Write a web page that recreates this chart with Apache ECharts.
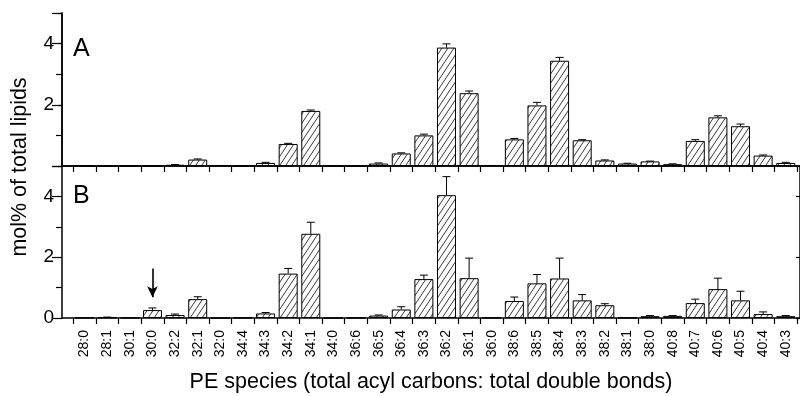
<!DOCTYPE html>
<html>
<head>
<meta charset="utf-8">
<script src="https://cdn.jsdelivr.net/npm/echarts@6/dist/echarts.min.js"></script>
<style>
html,body{margin:0;padding:0;background:#fff;}
#chart{width:800px;height:396px;}
</style>
</head>
<body>
<div id="chart"></div>
<script>
const categories = ['28:0','28:1','30:1','30:0','32:2','32:1','32:0','34:4','34:3','34:2','34:1','34:0','36:6','36:5','36:4','36:3','36:2','36:1','36:0','38:6','38:5','38:4','38:3','38:2','38:1','38:0','40:8','40:7','40:6','40:5','40:4','40:3'];
const valuesA = [0,0,0,0,0.04,0.21,0.03,0,0.10,0.72,1.80,0,0,0.08,0.41,1.00,3.87,2.38,0.03,0.87,1.98,3.44,0.84,0.18,0.08,0.15,0.06,0.82,1.59,1.30,0.34,0.10];
const errorsA = [0,0,0,0,0.01,0.02,0,0,0.02,0.02,0.03,0,0,0.02,0.02,0.04,0.12,0.07,0,0.03,0.10,0.11,0.02,0.02,0.01,0.01,0.01,0.04,0.05,0.07,0.02,0.02];
const valuesB = [0.01,0.02,0.01,0.26,0.10,0.62,0,0.01,0.15,1.46,2.77,0,0.01,0.08,0.28,1.28,4.04,1.31,0.01,0.56,1.14,1.30,0.58,0.42,0.01,0.06,0.07,0.49,0.95,0.58,0.13,0.06];
const errorsB = [0,0.01,0,0.07,0.03,0.08,0,0,0.03,0.17,0.38,0,0,0.02,0.09,0.13,0.61,0.66,0,0.13,0.29,0.67,0.19,0.05,0,0.02,0.01,0.13,0.36,0.30,0.07,0.02];
const yTicks = [0,2,4];
const xTitle = 'PE species (total acyl carbons: total double bonds)';
const yTitle = 'mol% of total lipids';
const arrowCategory = '30:0';
const arrowFrom = 1.63, arrowTo = 0.68;

const FONT = '"Liberation Sans", Arial, sans-serif';

// hatch pattern
const pc = document.createElement('canvas');
pc.width = 6; pc.height = 9;
const g = pc.getContext('2d');
g.fillStyle = '#fff'; g.fillRect(0,0,6,9);
g.strokeStyle = '#222'; g.lineWidth = 0.9;
for (const off of [-6,0,6]) {
  g.beginPath(); g.moveTo(off-1, 10.5); g.lineTo(off+7, -1.5); g.stroke();
}
const hatch = {image: pc, repeat: 'repeat'};

const xs = categories.map((c,i)=>i+1);
const tickPos = categories.map((c,i)=>i+0.5).concat([categories.length+0.5]);
const XMAX = 32.63;

function barData(vals){ return vals.map((v,i)=>[xs[i], v]); }
function errData(vals, errs){ return vals.map((v,i)=>[xs[i], v, errs[i]]); }

function errRender(params, api){
  const x = api.value(0), v = api.value(1), e = api.value(2);
  if (!(e > 0)) return;
  const p1 = api.coord([x, v]);
  const p2 = api.coord([x, v + e]);
  const st = {stroke:'#000', lineWidth:1};
  return {type:'group', children:[
    {type:'line', shape:{x1:p1[0], y1:p1[1], x2:p2[0], y2:p2[1]}, style:st},
    {type:'line', shape:{x1:p2[0]-4, y1:p2[1], x2:p2[0]+4, y2:p2[1]}, style:st}
  ]};
}

const axisLine = {show:true, lineStyle:{color:'#000', width:1.5}};

function xAxisBase(gi, showLabels){
  return {
    type:'value', gridIndex:gi, min:0, max:XMAX, position:'bottom',
    axisLine: axisLine,
    splitLine:{show:false},
    axisTick:{show:true, customValues: tickPos, length:6, inside:false, lineStyle:{color:'#000', width:1.2}},
    axisLabel: showLabels ? {
      show:true, customValues: xs, rotate:90, margin:12,
      fontFamily:FONT, fontSize:14, color:'#000',
      formatter: (v)=>categories[Math.round(v)-1] || ''
    } : {show:false},
    name: showLabels ? xTitle : '',
    nameLocation:'middle', nameGap:53,
    nameTextStyle:{fontFamily:FONT, fontSize:21.5, color:'#000'}
  };
}
function yAxisLeft(gi, showZero){
  return {
    type:'value', gridIndex:gi, min:0, max:5, interval:2, position:'left',
    axisLine: axisLine,
    splitLine:{show:false},
    axisTick:{show:true, length:10, lineStyle:{color:'#000', width:1.2}},
    minorTick:{show:true, splitNumber:2, length:6, lineStyle:{color:'#000', width:1.2}},
    axisLabel:{show:true, margin:8, fontFamily:FONT, fontSize:19, color:'#000',
      formatter:(v)=> (yTicks.indexOf(v)>=0 && (showZero || v!==0)) ? String(v) : ''}
  };
}
function yAxisRight(gi){
  return {
    type:'value', gridIndex:gi, min:0, max:5, interval:2, position:'right',
    axisLine: axisLine, splitLine:{show:false},
    axisTick:{show:true, inside:true, length:4, lineStyle:{color:'#000', width:1.2}},
    axisLabel:{show:false}
  };
}

const chart = echarts.init(document.getElementById('chart'), null, {renderer:'canvas'});
const arrowX = categories.indexOf(arrowCategory) + 1;

chart.setOption({
  animation:false,
  backgroundColor:'#fff',
  grid:[
    {left:62, top:13, width:740, height:153},
    {left:62, top:166, width:740, height:152}
  ],
  xAxis:[
    xAxisBase(0,false),
    xAxisBase(1,true),
    {type:'value', gridIndex:0, min:0, max:XMAX, position:'top', axisLine:axisLine,
     axisTick:{show:false}, axisLabel:{show:false}, splitLine:{show:false}}
  ],
  yAxis:[
    yAxisLeft(0,false),
    yAxisLeft(1,true),
    yAxisRight(0),
    yAxisRight(1)
  ],
  graphic:[
    {type:'text', left:73, top:37, style:{text:'A', fontFamily:FONT, fontSize:25, fill:'#000'}},
    {type:'text', left:73, top:184, style:{text:'B', fontFamily:FONT, fontSize:25, fill:'#000'}},
    {type:'text', x:20, y:167, rotation:Math.PI/2,
     style:{text:yTitle, fontFamily:FONT, fontSize:21.5, fill:'#000', align:'center', verticalAlign:'middle'}}
  ],
  series:[
    {type:'bar', xAxisIndex:0, yAxisIndex:0, data:barData(valuesA), barWidth:19,
     itemStyle:{color:hatch, borderColor:'#000', borderWidth:1}, z:2},
    {type:'custom', xAxisIndex:0, yAxisIndex:0, data:errData(valuesA, errorsA), renderItem:errRender, z:3},
    {type:'bar', xAxisIndex:1, yAxisIndex:1, data:barData(valuesB), barWidth:19,
     itemStyle:{color:hatch, borderColor:'#000', borderWidth:1}, z:2,
     markLine:{silent:true, symbol:['none','arrow'], symbolSize:[8,11],
       label:{show:false},
       lineStyle:{color:'#000', width:1.6, type:'solid'},
       data:[[{coord:[arrowX, arrowFrom]}, {coord:[arrowX, arrowTo]}]]}},
    {type:'custom', xAxisIndex:1, yAxisIndex:1, data:errData(valuesB, errorsB), renderItem:errRender, z:3}
  ]
});
</script>
</body>
</html>
